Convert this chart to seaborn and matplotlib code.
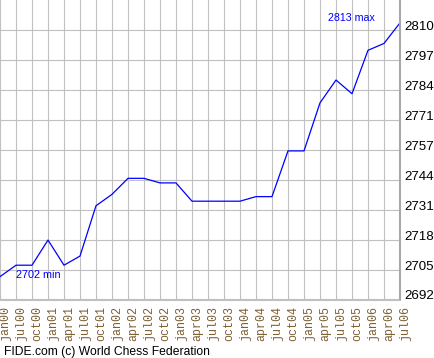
import matplotlib
matplotlib.use("Agg")
import matplotlib.pyplot as plt
import matplotlib.transforms as mtransforms
import seaborn as sns
import pandas as pd

months = ["jan00", "jul00", "oct00", "jan01", "apr01", "jul01", "oct01", "jan02",
          "apr02", "jul02", "oct02", "jan03", "apr03", "jul03", "oct03", "jan04",
          "apr04", "jul04", "oct04", "jan05", "apr05", "jul05", "oct05", "jan06",
          "apr06", "jul06"]
ratings = [2702, 2707, 2707, 2718, 2707, 2711, 2733, 2738, 2745, 2745, 2743, 2743,
           2735, 2735, 2735, 2735, 2737, 2737, 2757, 2757, 2778, 2788, 2782, 2801,
           2804, 2813]
ytick_labels = ["2692", "2705", "2718", "2731", "2744", "2757", "2771", "2784", "2797", "2810"]

sns.set_style("white")
plt.rcParams['font.family'] = ['Liberation Sans', 'DejaVu Sans']

df = pd.DataFrame({"idx": list(range(len(months))), "rating": ratings})

W, H = 435, 358
fig = plt.figure(figsize=(W / 100, H / 100), dpi=100)
ax = fig.add_axes([0, (H - 299.5) / H, 400 / W, 299.5 / H])

ymin, ystep = 2692, 13.1
yticks = [ymin + ystep * k for k in range(len(ytick_labels))]

sns.lineplot(data=df, x="idx", y="rating", color="#0000ff", lw=0.9, ax=ax)

ax.set_xlim(0, len(months) - 1)
ax.set_ylim(ymin, ymin + ystep * 10)
ax.set_xticks(df["idx"])
ax.set_xticklabels(months, rotation=90, fontfamily="Liberation Mono",
                   fontsize=8.4, color="#7d5f33", va="top", ha="center")
ax.set_yticks(yticks)
ax.set_yticklabels(ytick_labels, fontsize=9.6, color="black", va="baseline")
ax.yaxis.tick_right()
ax.tick_params(axis="both", length=0)
ax.tick_params(axis="x", pad=5)
ax.tick_params(axis="y", pad=3)
ax.set_xlabel("")
ax.set_ylabel("")

ax.grid(True, color="#c0c0c0", lw=0.8)
for s in ["left", "top"]:
    ax.spines[s].set_visible(False)
ax.spines["bottom"].set_color("#c0c0c0")
ax.spines["bottom"].set_linewidth(0.8)
ax.spines["right"].set_color("#a8a8a8")
ax.spines["right"].set_linewidth(1.5)

off = mtransforms.ScaledTranslation(0.05, 0, fig.dpi_scale_trans)
for lab in ax.get_xticklabels():
    lab.set_transform(lab.get_transform() + off)

ax.text(1.0, 2702.5, "2702 min", color="#0000ff", fontsize=7.8, ha="left", va="center")
ax.text(375 / 16, 2815, "2813 max", color="#0000ff", fontsize=7.7, ha="right", va="center")

fig.text(4 / W, 3 / H, "FIDE.com (c) World Chess Federation", fontsize=8.7,
         color="black", ha="left", va="baseline")

fig.savefig("out.png", dpi=100, facecolor="white")
